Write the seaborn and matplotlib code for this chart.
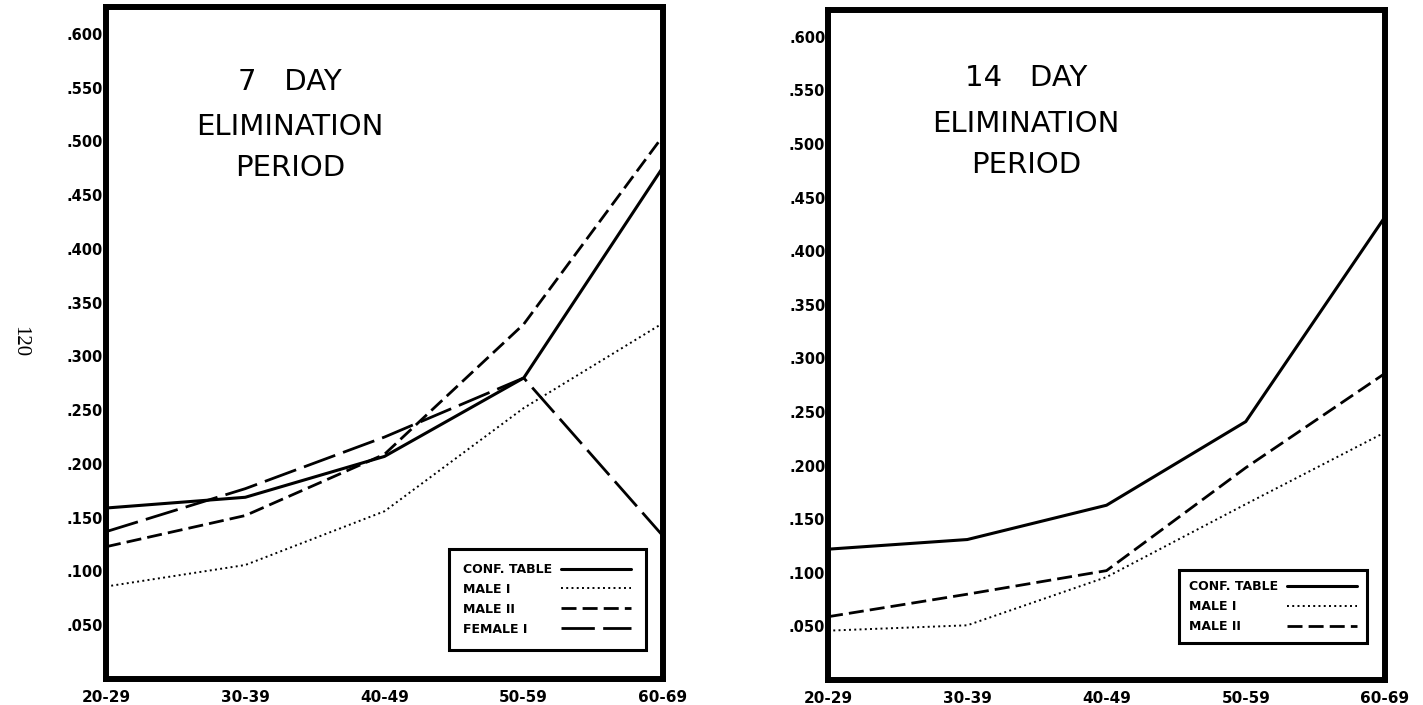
import matplotlib
matplotlib.use("Agg")
import matplotlib.pyplot as plt
import seaborn as sns
from matplotlib.ticker import FuncFormatter

ages = ["20-29", "30-39", "40-49", "50-59", "60-69"]

# 7 day elimination period
conf_7 = [0.159, 0.169, 0.207, 0.280, 0.476]
male1_7 = [0.086, 0.106, 0.156, 0.252, 0.331]
male2_7 = [0.123, 0.152, 0.209, 0.330, 0.505]
female1_7 = [0.137, 0.177, 0.225, 0.280, 0.133]

# 14 day elimination period
conf_14 = [0.122, 0.131, 0.163, 0.241, 0.432]
male1_14 = [0.046, 0.051, 0.096, 0.164, 0.231]
male2_14 = [0.059, 0.080, 0.102, 0.198, 0.286]

yticks = [0.05, 0.10, 0.15, 0.20, 0.25, 0.30, 0.35, 0.40, 0.45, 0.50, 0.55, 0.60]

# line style, width for each series
styles = {
    "CONF. TABLE": ("-", 2.2),
    "MALE I": ((0, (1, 1.7)), 1.4),
    "MALE II": ((0, (5.4, 2.2)), 2.0),
    "FEMALE I": ((0, (12, 3)), 2.0),
}

sns.set_theme(style="white")
plt.rcParams["font.family"] = ["DejaVu Sans"]
plt.rcParams["text.color"] = "black"
plt.rcParams["axes.labelcolor"] = "black"
plt.rcParams["xtick.color"] = "black"
plt.rcParams["ytick.color"] = "black"


def align_legend(leg, fig):
    # keep labels left-aligned while the line samples stay right-aligned
    r = fig.canvas.get_renderer()
    widths = [t.get_window_extent(r).width for t in leg.get_texts()]
    rows = leg._legend_handle_box.get_children()[0].get_children()
    for row, w in zip(rows, widths):
        row.sep += (max(widths) - w) / r.points_to_pixels(1.0)


def draw_panel(fig, ax, series, title, tx, ty, anchor, bpad):
    for name, vals in series:
        ls, lw = styles[name]
        sns.lineplot(x=ages, y=vals, ax=ax, color="black", linestyle=ls,
                     linewidth=lw, label=name, legend=False)
    ax.set_xlim(0, 4)
    ax.set_ylim(0, 0.625)
    ax.set_yticks(yticks)
    ax.yaxis.set_major_formatter(FuncFormatter(lambda v, p: ("%.3f" % v)[1:]))
    ax.set_xlabel("")
    ax.set_ylabel("")
    ax.tick_params(axis="y", direction="in", length=9, width=2, pad=2, labelsize=10.5)
    ax.tick_params(axis="x", direction="in", length=11, width=2, pad=8, labelsize=11)
    plt.setp(ax.get_xticklabels(), fontweight="bold")
    plt.setp(ax.get_yticklabels(), fontweight="bold")
    for s in ax.spines.values():
        s.set_linewidth(4.3)
        s.set_color("black")
    for line, yy in zip(title, ty):
        ax.text(tx, yy, line, transform=ax.transAxes, ha="center", va="baseline",
                fontsize=21, color="black")
    leg = ax.legend(loc="lower right", bbox_to_anchor=anchor, markerfirst=False,
                    prop={"weight": "bold", "size": 9}, fancybox=False,
                    framealpha=1, edgecolor="black", borderpad=bpad,
                    labelspacing=0.55, handlelength=5.6, handletextpad=0.7)
    leg.get_frame().set_linewidth(2.2)
    for t in leg.get_texts():
        t.set_color("black")
    align_legend(leg, fig)


fig = plt.figure(figsize=(14.23, 7.05), dpi=100, facecolor="white")
ax1 = fig.add_axes([0.0745, 0.0369, 0.3914, 0.9532])
ax2 = fig.add_axes([0.5819, 0.0355, 0.3914, 0.9504])

draw_panel(fig, ax1,
           [("CONF. TABLE", conf_7), ("MALE I", male1_7),
            ("MALE II", male2_7), ("FEMALE I", female1_7)],
           ["7   DAY", "ELIMINATION", "PERIOD"], 0.33, [0.877, 0.810, 0.748],
           (0.98, 0.034), 1.15)
draw_panel(fig, ax2,
           [("CONF. TABLE", conf_14), ("MALE I", male1_14), ("MALE II", male2_14)],
           ["14   DAY", "ELIMINATION", "PERIOD"], 0.355, [0.886, 0.818, 0.756],
           (0.978, 0.046), 0.8)

fig.text(0.014, 0.516, "120", rotation=270, ha="center", va="center",
         fontsize=15, family=["Liberation Serif", "DejaVu Serif"])

fig.savefig("out.png", dpi=100, facecolor="white")
